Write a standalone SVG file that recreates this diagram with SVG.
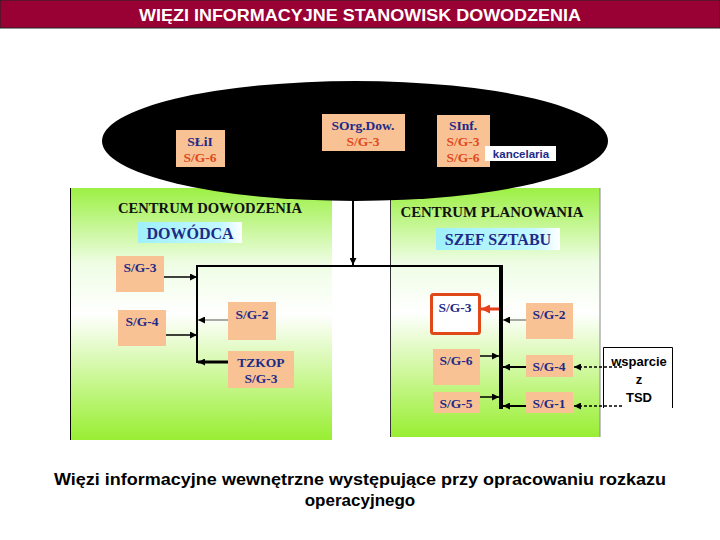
<svg xmlns="http://www.w3.org/2000/svg" width="720" height="540" viewBox="0 0 720 540">
<defs>
<linearGradient id="gp" x1="0" y1="0" x2="0" y2="1">
<stop offset="0" stop-color="#9cf044"/>
<stop offset="0.3" stop-color="#eefde4"/>
<stop offset="0.5" stop-color="#ffffff"/>
<stop offset="0.82" stop-color="#bdf57a"/>
<stop offset="1" stop-color="#99ee33"/>
</linearGradient>
<linearGradient id="gc" x1="0" y1="0" x2="1" y2="0">
<stop offset="0" stop-color="#9ef0fa"/>
<stop offset="0.8" stop-color="#c4f8ff"/>
<stop offset="1" stop-color="#ffffff"/>
</linearGradient>
<marker id="ah" viewBox="0 0 10 10" refX="10" refY="5" markerWidth="8" markerHeight="7" markerUnits="userSpaceOnUse" orient="auto">
<path d="M0,0 L10,5 L0,10 z" fill="#000"/>
</marker>
<marker id="ahr" viewBox="0 0 10 10" refX="10" refY="5" markerWidth="11" markerHeight="9" markerUnits="userSpaceOnUse" orient="auto">
<path d="M0,0 L10,5 L0,10 z" fill="#e8401c"/>
</marker>
</defs>
<style>
.box{fill:#f8c294;stroke:none}
.nv{fill:#1e2a88;font-family:"Liberation Serif","Times New Roman",serif;font-weight:bold;font-size:13.5px;text-anchor:middle}
.rd{fill:#e0481a;font-family:"Liberation Serif","Times New Roman",serif;font-weight:bold;font-size:13.5px;text-anchor:middle}
.hd{fill:#111;font-family:"Liberation Serif","Times New Roman",serif;font-weight:bold;font-size:14px;text-anchor:middle}
.bg{fill:#1e2a88;font-family:"Liberation Serif","Times New Roman",serif;font-weight:bold;font-size:16px;text-anchor:middle}
.ln{stroke:#000;fill:none}
.sans{font-family:"Liberation Sans",Arial,sans-serif;font-weight:bold;text-anchor:middle}
</style>
<rect width="720" height="540" fill="#fff"/>
<g id="title">
<rect x="0" y="0" width="720" height="28" fill="#990033" stroke="#222" stroke-width="1"/>
<text x="360" y="21" class="sans" font-size="17" fill="#fff" textLength="442" lengthAdjust="spacingAndGlyphs">WIĘZI INFORMACYJNE STANOWISK DOWODZENIA</text>
</g>
<g id="centrum-dowodzenia">
<rect x="70" y="188" width="262" height="252" fill="url(#gp)"/>
<line x1="70.5" y1="188" x2="70.5" y2="440" stroke="#000" stroke-width="1"/>
<text x="210" y="213" class="hd" textLength="184" lengthAdjust="spacingAndGlyphs">CENTRUM DOWODZENIA</text>
</g>
<g id="centrum-planowania">
<rect x="390" y="188" width="210" height="249" fill="url(#gp)"/>
<line x1="390.5" y1="188" x2="390.5" y2="437" stroke="#333" stroke-width="1"/>
<line x1="600" y1="188" x2="600" y2="437" stroke="#888" stroke-width="1"/>
<text x="492" y="217" class="hd" textLength="183" lengthAdjust="spacingAndGlyphs">CENTRUM PLANOWANIA</text>
</g>
<g id="ellipse">
<ellipse cx="355" cy="141" rx="253" ry="60" fill="#000"/>
</g>
<g id="n-slii">
<rect class="box" x="176" y="130" width="49" height="37"/>
<text x="200" y="146" class="nv">SŁiI</text>
<text x="200" y="162" class="rd">S/G-6</text>
</g>
<g id="n-sorg">
<rect class="box" x="322" y="114" width="83" height="37"/>
<text x="363" y="130" class="nv">SOrg.Dow.</text>
<text x="363" y="146" class="rd">S/G-3</text>
</g>
<g id="n-sinf">
<rect class="box" x="437" y="115" width="53" height="52"/>
<text x="463" y="130" class="nv">SInf.</text>
<text x="463" y="146" class="rd">S/G-3</text>
<text x="463" y="162" class="rd">S/G-6</text>
</g>
<g id="n-kancelaria">
<rect x="485" y="146" width="71" height="15" fill="#fff"/>
<text x="521" y="157.5" class="sans" font-size="11.5" fill="#1e2a88">kancelaria</text>
</g>
<g id="n-dowodca">
<rect x="138" y="222" width="104" height="21" fill="url(#gc)"/>
<text x="190" y="239" class="bg">DOWÓDCA</text>
</g>
<g id="n-szef">
<rect x="436" y="228" width="124" height="22" fill="url(#gc)"/>
<text x="498" y="245" class="bg">SZEF SZTABU</text>
</g>
<g id="n-l-sg3">
<rect class="box" x="116" y="256" width="48" height="36"/>
<text x="140" y="272" class="nv">S/G-3</text>
</g>
<g id="n-l-sg4">
<rect class="box" x="118" y="310" width="48" height="36"/>
<text x="142" y="326" class="nv">S/G-4</text>
</g>
<g id="n-l-sg2">
<rect class="box" x="228" y="302" width="48" height="38"/>
<text x="252" y="319" class="nv">S/G-2</text>
</g>
<g id="n-tzkop">
<rect class="box" x="228" y="351" width="66" height="37"/>
<text x="261" y="367" class="nv">TZKOP</text>
<text x="261" y="383" class="nv">S/G-3</text>
</g>
<g id="n-r-sg3">
<rect x="431.5" y="294.5" width="48" height="39" fill="#fff" stroke="#e0481a" stroke-width="3" rx="2"/>
<text x="455" y="312" class="nv">S/G-3</text>
</g>
<g id="n-r-sg2">
<rect class="box" x="526" y="303" width="47" height="36"/>
<text x="549" y="319" class="nv">S/G-2</text>
</g>
<g id="n-r-sg6">
<rect class="box" x="433" y="349" width="47" height="36"/>
<text x="456" y="365" class="nv">S/G-6</text>
</g>
<g id="n-r-sg4">
<rect class="box" x="526" y="355" width="47" height="22"/>
<text x="549" y="371" class="nv">S/G-4</text>
</g>
<g id="n-r-sg5">
<rect class="box" x="433" y="392" width="47" height="21"/>
<text x="456" y="408" class="nv">S/G-5</text>
</g>
<g id="n-r-sg1">
<rect class="box" x="526" y="392" width="47" height="21"/>
<text x="549" y="408" class="nv">S/G-1</text>
</g>
<g id="n-wsparcie">
<rect x="603" y="347" width="70" height="61" fill="#fff"/>
<path d="M603.5,408 V347.5 H672.5 V408" class="ln" stroke-width="1"/>
<text x="639" y="366" class="sans" font-size="13" fill="#000">wsparcie</text>
<text x="639" y="384" class="sans" font-size="13" fill="#000">z</text>
<text x="639" y="402" class="sans" font-size="13" fill="#000">TSD</text>
</g>
<g id="connectors">
<line x1="353" y1="200" x2="353" y2="265" class="ln" stroke-width="2" marker-end="url(#ah)"/>
<path d="M197,363 V266 H501" class="ln" stroke-width="2"/>
<line x1="501" y1="265" x2="501" y2="409" class="ln" stroke-width="4"/>
<line x1="164" y1="277" x2="197" y2="277" class="ln" stroke-width="1.5" marker-end="url(#ah)"/>
<line x1="166" y1="335" x2="197" y2="335" class="ln" stroke-width="1.5" marker-end="url(#ah)"/>
<line x1="228" y1="320" x2="198" y2="320" stroke="#555" stroke-width="1" marker-end="url(#ah)"/>
<line x1="228" y1="362" x2="198" y2="362" class="ln" stroke-width="3" marker-end="url(#ah)"/>
<line x1="499" y1="309" x2="481" y2="309" stroke="#e8401c" stroke-width="3" marker-end="url(#ahr)"/>
<line x1="526" y1="320" x2="503" y2="320" stroke="#555" stroke-width="1" marker-end="url(#ah)"/>
<line x1="480" y1="356" x2="499" y2="356" class="ln" stroke-width="1.5" marker-end="url(#ah)"/>
<line x1="526" y1="367" x2="503" y2="367" class="ln" stroke-width="2" marker-end="url(#ah)"/>
<line x1="480" y1="397" x2="499" y2="397" class="ln" stroke-width="1.5" marker-end="url(#ah)"/>
<line x1="526" y1="406" x2="503" y2="406" class="ln" stroke-width="2" marker-end="url(#ah)"/>
<line x1="622" y1="367" x2="574" y2="367" class="ln" stroke-width="1.3" stroke-dasharray="3,2" marker-end="url(#ah)"/>
<line x1="622" y1="406" x2="574" y2="406" class="ln" stroke-width="1.3" stroke-dasharray="3,2" marker-end="url(#ah)"/>
</g>
<g id="caption">
<text x="360" y="485" class="sans" font-size="17" fill="#000" textLength="612" lengthAdjust="spacingAndGlyphs">Więzi informacyjne wewnętrzne występujące przy opracowaniu rozkazu</text>
<text x="360" y="506" class="sans" font-size="17" fill="#000">operacyjnego</text>
</g>
</svg>
